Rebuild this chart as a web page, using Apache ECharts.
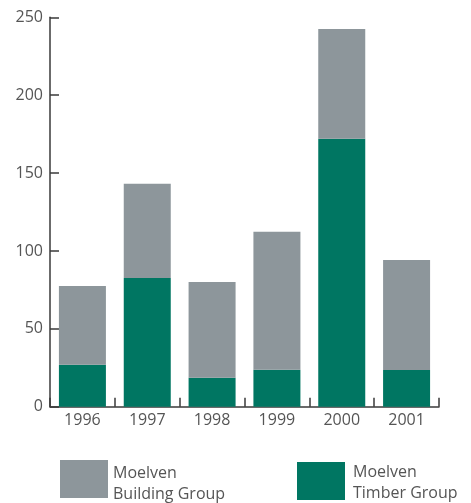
<!DOCTYPE html>
<html>
<head>
<meta charset="utf-8">
<script src="https://cdn.jsdelivr.net/npm/echarts@6/dist/echarts.min.js"></script>
<style>
html, body { margin: 0; padding: 0; background: #fff; }
#chart { width: 471px; height: 503px; }
</style>
</head>
<body>
<div id="chart"></div>
<script>
// Operating figures per year, split by business area
const years = ['1996', '1997', '1998', '1999', '2000', '2001'];
const timberGroup = [27, 82.6, 18.6, 23.8, 172, 23.6];
const buildingGroup = [50.5, 60.5, 61.5, 88.5, 70.5, 70.6];
const yTicks = [0, 50, 100, 150, 200, 250];

const nameBuilding = 'Moelven\nBuilding Group';
const nameTimber = 'Moelven\nTimber Group';
const colBuilding = '#8d969b';
const colTimber = '#007662';
const textCol = '#555555';
const axisCol = '#3a3a3a';
const fontFam = '"Open Sans", "Noto Sans", sans-serif';

const chart = echarts.init(document.getElementById('chart'), null, { renderer: 'canvas' });

// Two-line legend label; the line heights push the text a little below the swatch centre
function legendAt(left, top, name, firstLH, secondLH, padLeft) {
  const token = { color: textCol, fontSize: 16, fontFamily: fontFam, padding: [0, 0, 0, padLeft] };
  return {
    orient: 'horizontal',
    left: left,
    top: top,
    padding: 0,
    itemWidth: 48,
    itemHeight: 38,
    icon: 'rect',
    selectedMode: false,
    data: [name],
    formatter: function (n) {
      const parts = n.split('\n');
      return '{l1|' + parts[0] + '}\n{l2|' + parts[1] + '}';
    },
    textStyle: {
      color: textCol, fontSize: 16, fontFamily: fontFam,
      rich: {
        l1: Object.assign({ lineHeight: firstLH }, token),
        l2: Object.assign({ lineHeight: secondLH }, token)
      }
    }
  };
}

chart.setOption({
  animation: false,
  grid: { left: 50, right: 32, top: 17.3, bottom: 96.3, containLabel: false },
  legend: [
    legendAt(60, 460, nameBuilding, 30, 12, 0),
    legendAt(297, 462, nameTimber, 25, 17, 3)
  ],
  xAxis: {
    type: 'category',
    data: years,
    boundaryGap: true,
    axisLine: { show: true, lineStyle: { color: axisCol, width: 1.5 } },
    axisTick: { show: true, inside: true, length: 9, alignWithLabel: false, lineStyle: { color: axisCol, width: 1.5 } },
    axisLabel: { color: textCol, fontSize: 16, fontFamily: fontFam, margin: 6 }
  },
  yAxis: {
    type: 'value',
    min: yTicks[0],
    max: yTicks[yTicks.length - 1],
    interval: 50,
    axisLine: { show: true, lineStyle: { color: axisCol, width: 1.5 } },
    axisTick: { show: true, inside: true, length: 9, lineStyle: { color: axisCol, width: 1.5 } },
    axisLabel: { color: textCol, fontSize: 16, fontFamily: fontFam, margin: 7 },
    splitLine: { show: false }
  },
  series: [
    {
      name: nameTimber,
      type: 'bar',
      stack: 'total',
      barWidth: 47,
      data: timberGroup,
      itemStyle: { color: colTimber }
    },
    {
      name: nameBuilding,
      type: 'bar',
      stack: 'total',
      barWidth: 47,
      data: buildingGroup,
      itemStyle: { color: colBuilding }
    }
  ]
});
</script>
</body>
</html>
